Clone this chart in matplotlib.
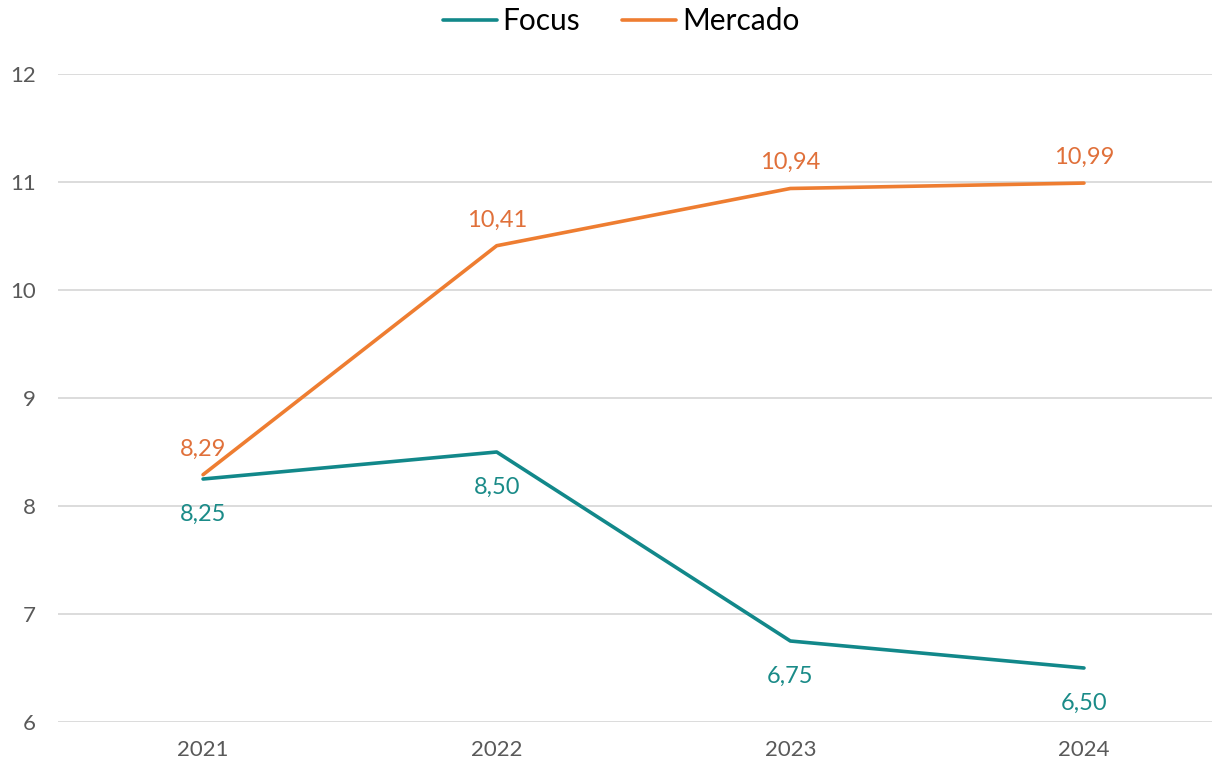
import matplotlib.pyplot as plt

plt.rcParams['font.family'] = ['Lato', 'DejaVu Sans']

years = ['2021', '2022', '2023', '2024']
focus = [8.25, 8.50, 6.75, 6.50]
mercado = [8.29, 10.41, 10.94, 10.99]

teal = '#12888A'
orange = '#EE7D31'

fig = plt.figure(figsize=(12.13, 7.64), dpi=100)
ax = fig.add_axes([58 / 1213, 1 - 722 / 764, (1212 - 58) / 1213, (722 - 74) / 764])

x = list(range(len(years)))
ax.plot(x, focus, color=teal, linewidth=2.6, label='Focus', solid_capstyle='round')
ax.plot(x, mercado, color=orange, linewidth=2.6, label='Mercado', solid_capstyle='round')

for i, v in enumerate(focus):
    ax.annotate(f'{v:.2f}'.replace('.', ','), (i, v), xytext=(0, -18), textcoords='offset points',
                ha='center', va='top', fontsize=17, color='#1A8B88')
for i, v in enumerate(mercado):
    ax.annotate(f'{v:.2f}'.replace('.', ','), (i, v), xytext=(0, 11), textcoords='offset points',
                ha='center', va='bottom', fontsize=17, color='#E0703A')

ax.set_ylim(6, 12)
ax.set_xlim(-0.494, 3.436)
ax.set_xticks(x)
ax.set_xticklabels(years)
ax.set_yticks(range(6, 13))
ax.grid(axis='y', color='#D9D9D9', linewidth=1.3)
ax.set_axisbelow(True)
for s in ax.spines.values():
    s.set_visible(False)
ax.tick_params(length=0, labelsize=16, labelcolor='#595959')
ax.tick_params(axis='y', pad=16)
ax.tick_params(axis='x', pad=13)

fig.legend(loc='upper center', bbox_to_anchor=(0.512, 1.026), ncol=2, frameon=False,
           fontsize=21.5, handlelength=1.8, columnspacing=1.4, handletextpad=0.2)

fig.savefig('out.png', dpi=100)
